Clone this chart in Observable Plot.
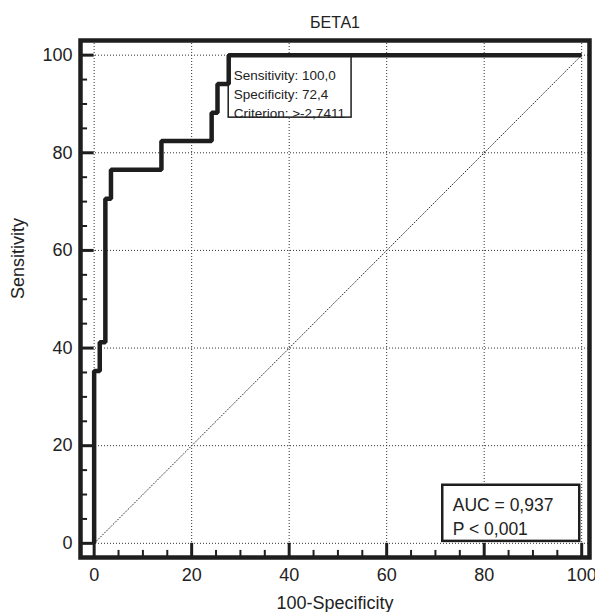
<!DOCTYPE html>
<html><head><meta charset="utf-8">
<script src="https://cdn.jsdelivr.net/npm/d3@7"></script>
<script src="https://cdn.jsdelivr.net/npm/@observablehq/plot@0.6"></script>
<style>body{margin:0;background:#fff;}</style>
</head><body><div id="chart"></div>
<script>
const title = "БЕТА1";
const xLabel = "100-Specificity";
const yLabel = "Sensitivity";
const majorTicks = [0, 20, 40, 60, 80, 100];
const minorTicks = [5, 10, 15, 25, 30, 35, 45, 50, 55, 65, 70, 75, 85, 90, 95];
const fpr = [0, 1.15, 2.3, 3.45, 13.8, 24.1, 25.3, 27.6, 100];
const tpr = [0, 35.3, 41.2, 70.6, 76.5, 82.4, 88.2, 94.1, 100];
const diagonal = [0, 100];
const criterionFpr = 27.6, criterionTpr = 100;
const criterionLines = ["Sensitivity: 100,0", "Specificity: 72,4", "Criterion: >-2,7411"];
const statsLines = ["AUC = 0,937", "P < 0,001"];

const xDomain = [-2.8, 101.6], yDomain = [-2.9, 103];
const roc = fpr.map((x, i) => ({x, y: tpr[i]}));
const diag = diagonal.map(v => ({x: v, y: v}));
const ink = "#1e1e1e";
const dotted = {stroke: "#333", strokeWidth: 1, strokeDasharray: "1,2"};
const minorLen = 1.45;

const chart = Plot.plot({
  width: 595, height: 612,
  marginLeft: 80, marginTop: 40, marginRight: 6, marginBottom: 55,
  x: {domain: xDomain},
  y: {domain: yDomain},
  style: {fontFamily: "'Liberation Sans', Arial, sans-serif", fontSize: "18px", color: "#222", background: "#fff", overflow: "visible"},
  marks: [
    Plot.ruleX(majorTicks, dotted),
    Plot.ruleY(majorTicks, dotted),
    Plot.line(diag, {x: "x", y: "y", ...dotted}),
    Plot.axisX(majorTicks, {tickSize: 0, tickPadding: 11, fontSize: 18, label: null}),
    Plot.axisY(majorTicks, {tickSize: 0, tickPadding: 8, fontSize: 18, label: null}),
    Plot.rect([0], {x1: criterionFpr, x2: criterionFpr + 25.2, y1: criterionTpr - 12.8, y2: criterionTpr, fill: "#fff", stroke: ink, strokeWidth: 1.5}),
    Plot.line(roc, {x: "x", y: "y", curve: "step-before", stroke: ink, strokeWidth: 4.5, strokeLinejoin: "miter", strokeLinecap: "butt"}),
    Plot.text([criterionLines.join("\n")], {x: criterionFpr, y: criterionTpr, dx: 5, dy: 11, textAnchor: "start", lineAnchor: "top", lineHeight: 1.41, fontSize: 13.5, fill: "#222"}),
    Plot.rect([0], {x1: 71.5, x2: 99.6, y1: 0.4, y2: 11.9, fill: "#fff", stroke: ink, strokeWidth: 2.5}),
    Plot.text([statsLines.join("\n")], {x: 71.5, y: 11.9, dx: 10, dy: 9.5, textAnchor: "start", lineAnchor: "top", lineHeight: 1.34, fontSize: 17.5, fill: "#222"}),
    Plot.frame({stroke: ink, strokeWidth: 4.5}),
    Plot.ruleX(majorTicks, {y1: yDomain[0], y2: 0, stroke: ink, strokeWidth: 3}),
    Plot.ruleX(minorTicks, {y1: yDomain[0], y2: yDomain[0] + minorLen, stroke: ink, strokeWidth: 2}),
    Plot.ruleY(majorTicks, {x1: xDomain[0], x2: 0, stroke: ink, strokeWidth: 3}),
    Plot.ruleY(minorTicks, {x1: xDomain[0], x2: xDomain[0] + minorLen, stroke: ink, strokeWidth: 2}),
    Plot.text([title], {frameAnchor: "top", dy: -13, lineAnchor: "bottom", fontSize: 16, fill: "#222"}),
    Plot.text([xLabel], {frameAnchor: "bottom", dy: 51, lineAnchor: "bottom", fontSize: 18, fill: "#222"}),
    Plot.text([yLabel], {frameAnchor: "left", dx: -56.5, rotate: -90, lineAnchor: "bottom", fontSize: 18, fill: "#222"})
  ]
});
document.getElementById("chart").append(chart);
</script>
</body></html>
